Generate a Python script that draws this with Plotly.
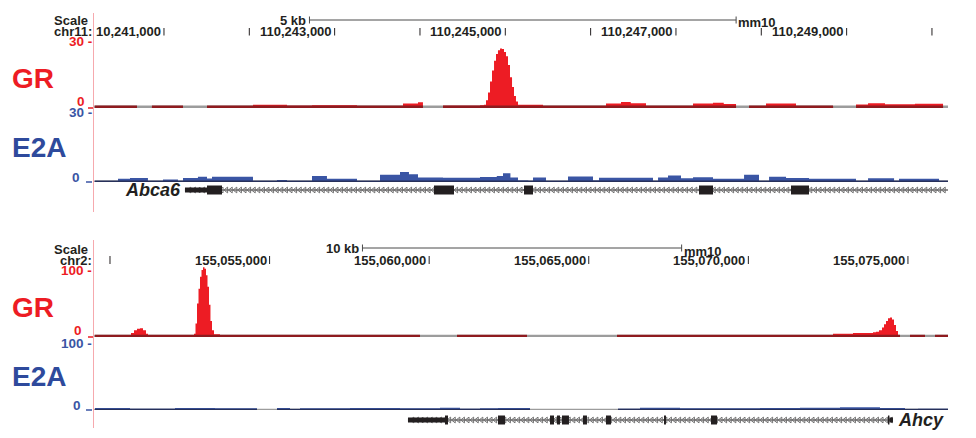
import numpy as np
import plotly.graph_objects as go

W, H = 976, 438
FONT = "Liberation Sans, Arial, sans-serif"
RED = "#ED1C24"
DARKRED = "#8E1B1F"
BLUE = "#3A55A4"
NAVY = "#27305A"
GRAY = "#9C9C9C"
INK = "#231F20"
PINK = "#F6A9AE"

# ---------------- view windows (genomic) ----------------
VIEW1 = [110240180, 110250188]   # chr11
VIEW2 = [155049499, 155076255]   # chr2

# ---------------- ruler ----------------
TICKS1 = [110241000, 110242000, 110243000, 110244000, 110245000,
          110246000, 110247000, 110248000, 110249000, 110250000]
TICK_LABELS1 = ["10,241,000", "", "110,243,000", "", "110,245,000",
                "", "110,247,000", "", "110,249,000", ""]
TICKS2 = [155050000, 155055000, 155060000, 155065000, 155070000, 155075000]
TICK_LABELS2 = ["", "155,055,000", "155,060,000", "155,065,000",
                "155,070,000", "155,075,000"]
SCALEBAR1 = [110242705, 110247705]
SCALEBAR1_LABEL = "5 kb"
SCALEBAR2 = [155057910, 155067910]
SCALEBAR2_LABEL = "10 kb"

# ---------------- signal tracks (bedGraph-like: segment starts + values) ----------------
GR1_START = [110240191, 110240684, 110240859, 110241223, 110241504, 110242043, 110242442,
             110242735, 110243262, 110243801, 110243977, 110244035, 110244270, 110244704,
             110244750, 110244774, 110244797, 110244821, 110244844, 110244868, 110244891,
             110244914, 110244938, 110244961, 110244985, 110245008, 110245032, 110245055,
             110245079, 110245102, 110245125, 110245149, 110245442, 110246180,
             110246356, 110246470, 110246649, 110247200, 110247434, 110247560, 110247704,
             110247856, 110248055, 110248407, 110248841, 110249110, 110249251, 110249450,
             110249800, 110250130]
GR1_VALUE = [0.9, 0, 0.5, 0, 0.8, 1.5, 1.0,
             1.2, 0.8, 2.1, 2.6, 0, 1.0, 1.3,
             1.5, 3.5, 7, 12, 17, 21.5, 24.5,
             26.3, 27, 26.8, 25.5, 23.5, 19.5, 14,
             9.5, 5.5, 3, 1.5, 0.6, 2.0,
             2.7, 2.2, 0.6, 2.0, 2.4, 1.8, 0,
             0.6, 2.1, 0.9, 0, 1.6, 2.2, 1.7,
             1.9, 0]
GR1_END = 110250188

E2A1_START = [110240191, 110240297, 110240461, 110240602, 110240812, 110240859, 110240988,
              110241164, 110241223, 110241398, 110241504, 110241563, 110242043, 110242324,
              110242442, 110242735, 110242910, 110243262, 110243532, 110243766, 110243871,
              110243977, 110244270, 110244704, 110244900, 110244973, 110245060, 110245149,
              110245270, 110245325, 110245477, 110245735, 110246028, 110246098, 110246731,
              110246790, 110246907, 110247059, 110247200, 110247434, 110247798, 110247973,
              110248091, 110248290, 110248559, 110249110, 110249251, 110249556, 110249614,
              110250083]
E2A1_VALUE = [0.3, 0.1, 1.4, 1.7, 0.4, 0.1, 1.1,
              0.1, 1.7, 2.3, 1.5, 2.3, 0.1, 0.9,
              0.1, 2.6, 1.4, 0.1, 3.2, 4.4, 3.4,
              2.0, 1.8, 2.2, 2.6, 3.8, 2.0, 0.7,
              0.3, 2.0, 0.3, 2.4, 0.7, 1.9, 0.2,
              2.0, 2.8, 1.6, 2.1, 1.4, 3.1, 0.3,
              2.3, 1.7, 1.4, 0.3, 1.6, 0.3, 1.4,
              0.3]
E2A1_END = 110250188

GR2_START = [155049530, 155050564, 155050658, 155050752, 155050846, 155050940, 155051034,
             155051128, 155051191, 155051253, 155052569, 155052632, 155052679, 155052726,
             155052773, 155052820, 155052867, 155052914, 155052961, 155053008, 155053055,
             155053102, 155053148, 155053196, 155053258, 155053446, 155053509, 155055013,
             155055640, 155056266, 155056642, 155057300, 155058146, 155058365, 155058710,
             155059712, 155060872, 155061812, 155063065, 155065885, 155069111, 155069581,
             155070145, 155070897, 155071398, 155072652, 155073279, 155073905, 155073999,
             155074093, 155074187, 155074250, 155074312, 155074375, 155074438, 155074500,
             155074563, 155074626, 155074688, 155074751, 155075064, 155075534, 155075847]
GR2_VALUE = [0.6, 2, 6, 10, 12.5, 13, 10,
             5, 1.5, 0.6, 2.5, 5, 20, 50,
             72, 90, 100, 104, 102, 92, 75,
             48, 24, 10, 4, 1.5, 0.4, 0.8,
             0.3, 3, 0.6, 1.8, 0.5, 1.5, 0.6,
             0, 0.8, 0.5, 0, 0.6, 3, 0.4,
             0.6, 3, 1.5, 5, 6, 7, 8,
             10, 14, 19, 24, 28, 29, 26,
             18, 9, 3, 0, 0.6, 0, 0.5]
GR2_END = 155076255

E2A2_START = [155049530, 155050627, 155052036, 155053290, 155054606, 155055232, 155055640,
              155055953, 155057519, 155059086, 155060339, 155060966, 155061592, 155062156,
              155063159, 155065916, 155066605, 155067859, 155070364, 155071618, 155072871,
              155074124, 155074908, 155075315]
E2A2_VALUE = [3, 2, 3, 2.5, 0, 3, 0.5,
              2.5, 3, 2.5, 3.5, 2, 2.5, 3,
              0, 2, 3.5, 2.5, 3, 3.5, 4,
              3, 1, 2]
E2A2_END = 155076255

# ---------------- genes ----------------
ABCA6_TX = [110241246, 110250188]
ABCA6_BLOCK_START = [110241246, 110241504, 110244164, 110245219, 110247270, 110248348]
ABCA6_BLOCK_END = [110241504, 110241680, 110244399, 110245325, 110247434, 110248559]
ABCA6_BLOCK_THICK = [False, True, True, True, True, True]

AHCY_TX = [155059336, 155074531]
AHCY_BLOCK_START = [155059336, 155060496, 155062156, 155063785, 155064005, 155064161,
                    155064819, 155065540, 155067357, 155068829, 155074375, 155074420]
AHCY_BLOCK_END = [155060496, 155060590, 155062375, 155063911, 155064099, 155064380,
                  155064944, 155065696, 155067419, 155069017, 155074420, 155074531]
AHCY_BLOCK_THICK = [False, True, True, True, True, True,
                    True, True, True, True, True, False]

# ---------------- layout helpers ----------------
X0, X1 = 94, 948


def py(px):
    return (H - px) / H


def px_(px):
    return px / W


def ydom(px_zero, px_top, vtop, lo, hi):
    ppu = (px_zero - px_top) / vtop
    b = px_zero - lo * ppu
    t = px_zero - hi * ppu
    return dict(domain=[py(b), py(t)], range=[lo, hi], visible=False, fixedrange=True)


fig = go.Figure()
shapes = []
annotations = []


def add_signal(starts, values, end, xa, ya, fill, band_color, band_h, view):
    xs = list(starts) + [end]
    ys = list(values) + [values[-1]]
    # gray "no data" baseline
    shapes.append(dict(type="rect", xref=xa, yref=ya, x0=view[0], x1=end,
                       y0=0, y1=band_h, fillcolor=GRAY, line=dict(width=0), layer="below"))
    fig.add_trace(go.Scatter(x=xs, y=ys, mode="lines", line=dict(width=0, shape="hv"),
                             fill="tozeroy", fillcolor=fill, xaxis=xa, yaxis=ya,
                             hoverinfo="skip", showlegend=False))
    bys = [band_h if v > 0 else 0 for v in ys]
    fig.add_trace(go.Scatter(x=xs, y=bys, mode="lines", line=dict(width=0, shape="hv"),
                             fill="tozeroy", fillcolor=band_color, xaxis=xa, yaxis=ya,
                             hoverinfo="skip", showlegend=False))


def add_gene(tx, bs, be, thick, xa, ya, view):
    fig.add_trace(go.Scatter(x=tx, y=[0, 0], mode="lines", line=dict(color=INK, width=1),
                             xaxis=xa, yaxis=ya, hoverinfo="skip", showlegend=False))
    bp_per_px = (view[1] - view[0]) / (X1 - X0)
    step = 4.6 * bp_per_px
    chev = np.arange(tx[0] + step, tx[1] - step * 0.3, step)
    fig.add_trace(go.Scatter(x=chev, y=np.zeros(len(chev)), mode="markers",
                             marker=dict(symbol="triangle-left-open", size=5, color="#707070",
                                         line=dict(color="#707070", width=1)),
                             xaxis=xa, yaxis=ya, hoverinfo="skip", showlegend=False))
    for s, e, t in zip(bs, be, thick):
        h = 4.5 if t else 2.5
        shapes.append(dict(type="rect", xref=xa, yref=ya, x0=s, x1=e, y0=-h, y1=h,
                           fillcolor=INK, line=dict(width=0)))


def txt(x, y, text, size, color, xanchor="left", xref="paper", yref="paper",
        yanchor="middle", xshift=0, yshift=0):
    annotations.append(dict(x=x, y=y, xref=xref, yref=yref, text=text, showarrow=False,
                            xanchor=xanchor, yanchor=yanchor, xshift=xshift, yshift=yshift,
                            font=dict(family=FONT, size=size, color=color), borderpad=0))


def ruler(xa, ticks, labels, bar, bar_label, chrom, scale_y, chrom_y, tick_y0, tick_y1,
          bar_y, mm_y):
    txt(px_(89), py(scale_y), "<b>Scale</b>", 13, INK, xanchor="right")
    txt(px_(93), py(chrom_y), "<b>%s</b>" % chrom, 13, INK, xanchor="right")
    for t, lab in zip(ticks, labels):
        shapes.append(dict(type="line", xref=xa, yref="paper", x0=t, x1=t,
                           y0=py(tick_y1), y1=py(tick_y0), line=dict(color=INK, width=1)))
        if lab:
            txt(t, py(chrom_y), "<b>%s</b>" % lab, 13, INK, xanchor="right", xref=xa, xshift=-2)
    shapes.append(dict(type="line", xref=xa, yref="paper", x0=bar[0], x1=bar[1],
                       y0=py(bar_y), y1=py(bar_y), line=dict(color="#4a4a4a", width=1)))
    for b in bar:
        shapes.append(dict(type="line", xref=xa, yref="paper", x0=b, x1=b,
                           y0=py(bar_y + 3.5), y1=py(bar_y - 3.5), line=dict(color="#4a4a4a", width=1)))
    txt(bar[0], py(bar_y), "<b>%s</b>" % bar_label, 13, INK, xanchor="right", xref=xa, xshift=-2)
    txt(bar[1], py(mm_y), "<b>mm10</b>", 13, INK, xanchor="left", xref=xa, xshift=1)


def scale_labels(ya, top_val, top_text, color, zero_dx, zero_shift, tick_char_under):
    txt(px_(93), top_val, "<b>%s -</b>" % top_text, 13.5, color, xanchor="right", yref=ya)
    txt(px_(zero_dx), 0, "<b>0</b>", 13.5, color, xanchor="right", yref=ya, yshift=zero_shift)
    x0, x1 = (86, 92) if tick_char_under else (88, 93)
    shapes.append(dict(type="line", xref="paper", yref=ya, x0=px_(x0), x1=px_(x1), y0=0, y1=0,
                       line=dict(color=color, width=1.5)))


# ---------------- panel 1 ----------------
add_signal(GR1_START, GR1_VALUE, GR1_END, "x", "y", RED, DARKRED, 1.1, VIEW1)
add_signal(E2A1_START, E2A1_VALUE, E2A1_END, "x", "y2", BLUE, NAVY, 0.6, VIEW1)
add_gene(ABCA6_TX, ABCA6_BLOCK_START, ABCA6_BLOCK_END, ABCA6_BLOCK_THICK, "x", "y3", VIEW1)
ruler("x", TICKS1, TICK_LABELS1, SCALEBAR1, SCALEBAR1_LABEL, "chr11:", 21, 31.5, 28, 35.5, 20, 22)
scale_labels("y", 30, "30", RED, 86, 7, False)
scale_labels("y2", 30, "30", BLUE, 81, 5, True)
txt(px_(11), py(78), "<b>GR</b>", 28, RED)
txt(px_(11), py(147), "<b>E2A</b>", 28, "#2E4A9C")
txt(ABCA6_TX[0], 0, "<b><i>Abca6</i></b>", 18, INK, xanchor="right", xref="x", yref="y3", xshift=-3)

# ---------------- panel 2 ----------------
add_signal(GR2_START, GR2_VALUE, GR2_END, "x2", "y4", RED, DARKRED, 3.2, VIEW2)
add_signal(E2A2_START, E2A2_VALUE, E2A2_END, "x2", "y5", BLUE, NAVY, 2.0, VIEW2)
add_gene(AHCY_TX, AHCY_BLOCK_START, AHCY_BLOCK_END, AHCY_BLOCK_THICK, "x2", "y6", VIEW2)
ruler("x2", TICKS2, TICK_LABELS2, SCALEBAR2, SCALEBAR2_LABEL, "chr2:", 249, 260, 256, 264, 248, 251)
scale_labels("y4", 100, "100", RED, 83, 7, False)
scale_labels("y5", 100, "100", BLUE, 82, 5, True)
txt(px_(11), py(307), "<b>GR</b>", 28, RED)
txt(px_(11), py(376), "<b>E2A</b>", 28, "#2E4A9C")
txt(AHCY_TX[1], 0, "<b><i>Ahcy</i></b>", 18, INK, xanchor="left", xref="x2", yref="y6", xshift=4)

# pink guide lines
shapes.append(dict(type="line", xref="paper", yref="paper", x0=px_(93.5), x1=px_(93.5),
                   y0=py(212), y1=py(13), line=dict(color=PINK, width=1)))
shapes.append(dict(type="line", xref="paper", yref="paper", x0=px_(93.5), x1=px_(93.5),
                   y0=py(428), y1=py(240), line=dict(color=PINK, width=1)))

xcommon = dict(domain=[px_(X0), px_(X1)], visible=False, fixedrange=True)
fig.update_layout(
    width=W, height=H, margin=dict(l=0, r=0, t=0, b=0),
    paper_bgcolor="white", plot_bgcolor="rgba(0,0,0,0)", showlegend=False,
    xaxis=dict(range=VIEW1, anchor="y", **xcommon),
    xaxis2=dict(range=VIEW2, anchor="y4", **xcommon),
    yaxis=dict(anchor="x", **ydom(108, 42, 30, -2, 31)),
    yaxis2=dict(anchor="x", **ydom(182, 113, 30, -2, 31)),
    yaxis3=dict(anchor="x", domain=[py(200), py(180)], range=[-10, 10], visible=False),
    yaxis4=dict(anchor="x2", **ydom(337, 270, 100, -5, 110)),
    yaxis5=dict(anchor="x2", **ydom(410, 343, 100, -5, 110)),
    yaxis6=dict(anchor="x2", domain=[py(430), py(410)], range=[-10, 10], visible=False),
    shapes=shapes, annotations=annotations,
)
fig.write_html("out.html", config={"displayModeBar": False},
               post_script="document.body.style.margin='0';document.body.style.overflow='hidden';")
